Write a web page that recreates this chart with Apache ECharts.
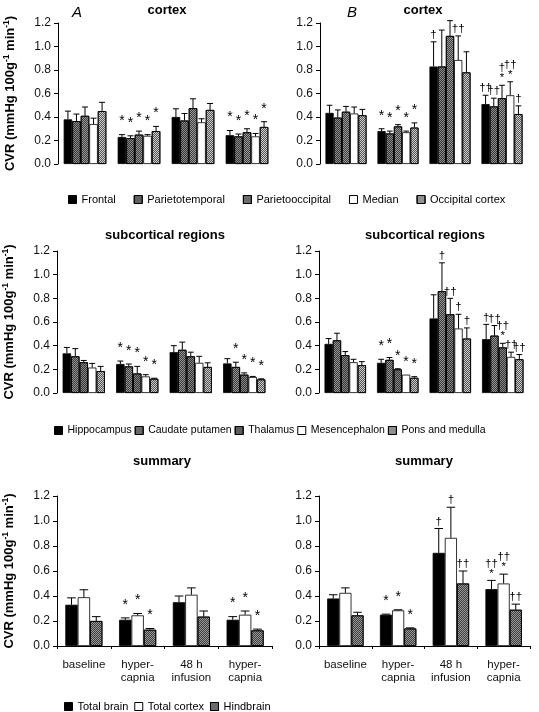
<!DOCTYPE html>
<html><head><meta charset="utf-8">
<script src="https://cdn.jsdelivr.net/npm/echarts@6/dist/echarts.min.js"></script>
<style>html,body{margin:0;padding:0;background:#fff}#c{width:539px;height:712px}</style>
</head><body><div id="c"></div>
<script>
// ---------- data ----------
const categories = ['baseline', 'hyper-\ncapnia', '48 h\ninfusion', 'hyper-\ncapnia'];

const cortexNames = ['Frontal', 'Parietotemporal', 'Parietooccipital', 'Median', 'Occipital cortex'];
const subNames = ['Hippocampus', 'Caudate putamen', 'Thalamus', 'Mesencephalon', 'Pons and medulla'];
const sumNames = ['Total brain', 'Total cortex', 'Hindbrain'];

// panel A cortex (rows = regions, columns = conditions)
const cortexA_mean = [
  [0.38, 0.23, 0.40, 0.245],
  [0.365, 0.22, 0.37, 0.235],
  [0.41, 0.25, 0.475, 0.27],
  [0.34, 0.24, 0.355, 0.235],
  [0.45, 0.28, 0.46, 0.315]
];
const cortexA_se = [
  [0.07, 0.02, 0.07, 0.04],
  [0.06, 0.02, 0.06, 0.02],
  [0.075, 0.03, 0.08, 0.03],
  [0.05, 0.01, 0.03, 0.025],
  [0.075, 0.04, 0.055, 0.045]
];
const cortexA_marks = [
  ['', '*', '', '*'], ['', '*', '', '*'], ['', '*', '', '*'], ['', '*', '', '*'], ['', '*', '', '*']
];

// panel B cortex
const cortexB_mean = [
  [0.435, 0.28, 0.83, 0.51],
  [0.395, 0.26, 0.83, 0.49],
  [0.445, 0.32, 1.09, 0.56],
  [0.43, 0.27, 0.885, 0.585],
  [0.415, 0.31, 0.78, 0.425]
];
const cortexB_se = [
  [0.065, 0.02, 0.21, 0.075],
  [0.065, 0.02, 0.31, 0.07],
  [0.045, 0.015, 0.13, 0.11],
  [0.055, 0.01, 0.205, 0.115],
  [0.05, 0.04, 0.175, 0.07]
];
const cortexB_marks = [
  ['', '*', '\u2020', '\u2020\u2020'],
  ['', '*', '', '\u2020\u2020'],
  ['', '*', '', '\u2020\n*'],
  ['', '*', '\u2020\u2020', '\u2020\u2020\n*'],
  ['', '*', '', '\u2020']
];

// panel A subcortical
const subA_mean = [
  [0.335, 0.245, 0.345, 0.25],
  [0.31, 0.225, 0.365, 0.22],
  [0.26, 0.165, 0.31, 0.155],
  [0.215, 0.14, 0.255, 0.135],
  [0.185, 0.12, 0.22, 0.115]
];
const subA_se = [
  [0.05, 0.025, 0.055, 0.04],
  [0.065, 0.02, 0.065, 0.04],
  [0.015, 0.06, 0.035, 0.015],
  [0.035, 0.015, 0.055, 0.005],
  [0.04, 0.005, 0.035, 0.005]
];
const subA_marks = [
  ['', '*', '', ''], ['', '*', '', '*'], ['', '*', '', '*'], ['', '*', '', '*'], ['', '*', '', '*']
];

// panel B subcortical
const subB_mean = [
  [0.415, 0.255, 0.63, 0.455],
  [0.445, 0.28, 0.86, 0.485],
  [0.32, 0.20, 0.665, 0.385],
  [0.26, 0.155, 0.545, 0.305],
  [0.235, 0.128, 0.46, 0.285]
];
const subB_se = [
  [0.045, 0.03, 0.20, 0.125],
  [0.06, 0.02, 0.24, 0.085],
  [0.03, 0.005, 0.135, 0.035],
  [0.025, 0.0, 0.12, 0.04],
  [0.03, 0.01, 0.09, 0.04]
];
const subB_marks = [
  ['', '*', '', '\u2020'],
  ['', '*', '\u2020', '\u2020\u2020'],
  ['', '*', '\u2020\u2020', '\u2020\u2020\n*'],
  ['', '*', '\u2020', '\u2020\u2020'],
  ['', '*', '\u2020', '\u2020\u2020']
];

// panel A summary
const sumA_mean = [
  [0.33, 0.21, 0.35, 0.21],
  [0.39, 0.245, 0.41, 0.25],
  [0.20, 0.13, 0.235, 0.125]
];
const sumA_se = [
  [0.055, 0.015, 0.05, 0.025],
  [0.06, 0.015, 0.055, 0.03],
  [0.035, 0.01, 0.045, 0.01]
];
const sumA_marks = [
  ['', '*', '', '*'], ['', '*', '', '*'], ['', '*', '', '*']
];

// panel B summary
const sumB_mean = [
  [0.38, 0.25, 0.745, 0.455],
  [0.425, 0.285, 0.865, 0.50],
  [0.245, 0.14, 0.50, 0.29]
];
const sumB_se = [
  [0.03, 0.005, 0.195, 0.07],
  [0.04, 0.005, 0.245, 0.075],
  [0.025, 0.005, 0.10, 0.045]
];
const sumB_marks = [
  ['', '*', '\u2020', '\u2020\u2020\n*'],
  ['', '*', '\u2020', '\u2020\u2020\n*'],
  ['', '*', '\u2020\u2020', '\u2020\u2020']
];

// ---------- styling ----------
const FONT = 'Arial, "Liberation Sans", sans-serif';
// fill colour and optional dither texture per region
const cortexColors = ['#000000', '#8a8a8a', '#9a9a9a', '#ffffff', '#d0d0d0'];
const cortexTex = [false, true, true, false, true];
const subColors = ['#000000', '#949494', '#858585', '#ffffff', '#cccccc'];
const subTex = [false, true, true, false, true];
const sumColors = ['#000000', '#ffffff', '#999999'];
const sumTex = [false, false, true];

const grids = [
  {left: 58, top: 23, width: 216, height: 141},
  {left: 320, top: 23, width: 208, height: 141},
  {left: 57, top: 251, width: 214, height: 142},
  {left: 319, top: 251, width: 210, height: 142},
  {left: 56, top: 496, width: 216, height: 150},
  {left: 319, top: 496, width: 211, height: 150}
];

const xAxes = grids.map((g, i) => {
  const bottom = i >= 4;
  return {
    type: 'category', gridIndex: i, data: categories,
    axisLine: {show: bottom, lineStyle: {color: '#000', width: 1}},
    axisTick: {show: bottom, length: 3, lineStyle: {color: '#000'}},
    axisLabel: {show: bottom, fontSize: 11.5, color: '#111', fontFamily: FONT, lineHeight: 13, margin: 12, interval: 0},
    splitLine: {show: false}
  };
});

const yAxes = grids.map((g, i) => {
  const left = i % 2 === 0;
  return {
    type: 'value', gridIndex: i, min: 0, max: 1.2, interval: 0.2,
    axisLine: {show: true, lineStyle: {color: '#000', width: 1}},
    axisTick: {show: true, length: 4, lineStyle: {color: '#000'}},
    axisLabel: {fontSize: 12, color: '#111', fontFamily: FONT, margin: 7, formatter: v => v.toFixed(1)},
    splitLine: {show: false},
    name: left ? '{a|CVR (mmHg 100g}{s|-1}{a| min}{s|-1}{a|)}' : '',
    nameLocation: 'middle', nameGap: 40, nameRotate: 90,
    nameTextStyle: {
      rich: {
        a: {fontSize: 13, fontWeight: 'bold', fontFamily: FONT, color: '#000', lineHeight: 16},
        s: {fontSize: 8.5, fontWeight: 'bold', fontFamily: FONT, color: '#000', lineHeight: 16, verticalAlign: 'top'}
      }
    }
  };
});

const decalTex = {
  symbol: 'rect', symbolSize: 1, color: 'rgba(0,0,0,0.6)',
  dashArrayX: [[1, 1], [0, 1, 1, 0]], dashArrayY: [1, 0]
};

const series = [];
function addPanel(gi, names, colors, tex, mean, se, marks, gapPct) {
  const n = names.length;
  names.forEach((nm, k) => {
    const style = {color: colors[k], borderColor: '#000', borderWidth: 0.8};
    if (tex[k]) style.decal = decalTex;
    series.push({
      type: 'bar', name: nm, xAxisIndex: gi, yAxisIndex: gi, data: mean[k],
      barGap: '0%', barCategoryGap: gapPct + '%',
      itemStyle: style, z: 2, silent: true
    });
  });
  names.forEach((nm, k) => {
    series.push({
      type: 'custom', name: 'err_' + gi + '_' + k, xAxisIndex: gi, yAxisIndex: gi,
      data: mean[k].map((m, i) => [i, m, se[k][i]]),
      encode: {x: 0, y: 1}, z: 5, silent: true, clip: false,
      renderItem: (p, api) => {
        const i = api.value(0), m = api.value(1), e = api.value(2);
        const base = api.coord([i, m]);
        const band = api.size([1, 0])[0];
        const gw = band * (1 - gapPct / 100);
        const bw = gw / n;
        const x = base[0] - gw / 2 + bw * (k + 0.5);
        const yTop = api.coord([i, m + e])[1];
        const cap = Math.max(2.5, bw * 0.35);
        const children = [];
        if (e > 0) {
          children.push({type: 'line', shape: {x1: x, y1: base[1], x2: x, y2: yTop}, style: {stroke: '#000', lineWidth: 1}});
          children.push({type: 'line', shape: {x1: x - cap, y1: yTop, x2: x + cap, y2: yTop}, style: {stroke: '#000', lineWidth: 1}});
        }
        const mk = marks[k][i];
        if (mk) {
          const starOnly = mk === '*';
          children.push({type: 'text', x: x, y: yTop - (starOnly ? 8 : 2),
            style: {text: mk, align: 'center', verticalAlign: 'bottom', fontSize: starOnly ? 14 : 11.5,
              fontFamily: FONT, fill: '#000', lineHeight: 10}});
        }
        return {type: 'group', children: children};
      }
    });
  });
}
addPanel(0, cortexNames, cortexColors, cortexTex, cortexA_mean, cortexA_se, cortexA_marks, 21);
addPanel(1, cortexNames, cortexColors, cortexTex, cortexB_mean, cortexB_se, cortexB_marks, 21);
addPanel(2, subNames, subColors, subTex, subA_mean, subA_se, subA_marks, 21);
addPanel(3, subNames, subColors, subTex, subB_mean, subB_se, subB_marks, 21);
addPanel(4, sumNames, sumColors, sumTex, sumA_mean, sumA_se, sumA_marks, 31);
addPanel(5, sumNames, sumColors, sumTex, sumB_mean, sumB_se, sumB_marks, 31);

const legendBase = {
  icon: 'rect', itemWidth: 8, itemHeight: 8, selectedMode: false,
  textStyle: {fontSize: 11, color: '#000', fontFamily: FONT},
  itemStyle: {borderColor: '#000', borderWidth: 1}
};

function titleText(txt, x, y) {
  return {type: 'text', x: x, y: y, style: {text: txt, align: 'center', verticalAlign: 'middle',
    font: 'bold 13px ' + FONT, fill: '#000'}};
}

const option = {
  animation: false,
  textStyle: {fontFamily: FONT},
  grid: grids,
  xAxis: xAxes,
  yAxis: yAxes,
  series: series,
  legend: [
    Object.assign({}, legendBase, {data: cortexNames, left: 63, top: 189, itemGap: 18}),
    Object.assign({}, legendBase, {data: subNames, left: 49, top: 420, itemGap: 3,
      textStyle: {fontSize: 10.5, color: '#000', fontFamily: FONT}}),
    Object.assign({}, legendBase, {data: sumNames, left: 59, top: 696, itemGap: 6})
  ],
  graphic: [
    titleText('cortex', 167, 10),
    titleText('cortex', 423, 10),
    titleText('subcortical regions', 165, 235),
    titleText('subcortical regions', 425, 235),
    titleText('summary', 162, 461),
    titleText('summary', 424, 461),
    {type: 'text', x: 77, y: 13, style: {text: 'A', align: 'center', verticalAlign: 'middle', font: 'italic 15px ' + FONT, fill: '#000'}},
    {type: 'text', x: 352, y: 13, style: {text: 'B', align: 'center', verticalAlign: 'middle', font: 'italic 15px ' + FONT, fill: '#000'}}
  ]
};

const chart = echarts.init(document.getElementById('c'), null, {renderer: 'canvas'});
chart.setOption(option);
</script>
</body></html>
